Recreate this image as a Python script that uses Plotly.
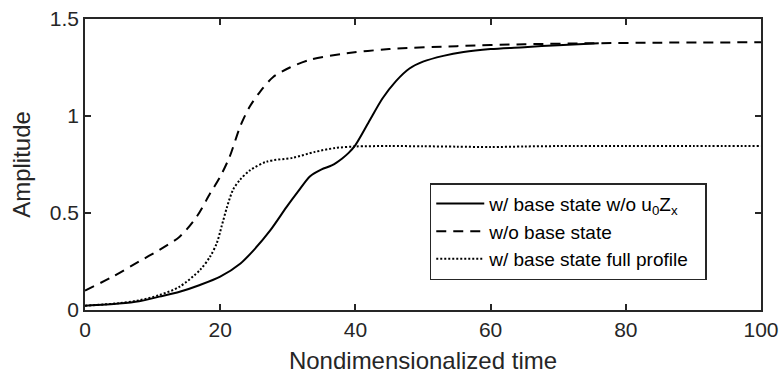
import plotly.graph_objects as go

# Series 1: w/ base state w/o u0Zx (solid)
t_solid = [0, 5, 8, 11, 14, 17, 20, 23, 25, 27.4, 29.8, 31.5, 33.3, 35, 36.5, 38, 39, 40, 42, 44, 46, 48, 50, 53, 56,
           60, 65, 70, 76]
a_solid = [0.022, 0.033, 0.045, 0.069, 0.094, 0.129, 0.172, 0.24, 0.31, 0.41, 0.53, 0.61, 0.69, 0.725, 0.745, 0.78,
           0.81, 0.85, 0.97, 1.09, 1.18, 1.245, 1.28, 1.31, 1.33, 1.345, 1.355, 1.365, 1.375]

# Series 2: w/o base state (dashed)
t_dash = [0, 4, 8, 11, 14, 16.5, 18.5, 20, 21.4, 23, 24.4, 26, 27.8, 30.3, 33.3, 38, 45, 55, 65, 75, 85, 100]
a_dash = [0.10, 0.17, 0.25, 0.31, 0.378, 0.48, 0.60, 0.687, 0.79, 0.95, 1.05, 1.13, 1.20, 1.25, 1.29, 1.32, 1.345,
          1.36, 1.37, 1.375, 1.378, 1.38]

# Series 3: w/ base state full profile (dotted)
t_dot = [0, 5, 8, 11, 14, 17, 18.5, 19.5, 20.2, 21, 21.9, 22.9, 24.4, 26.9, 30.8, 34, 37, 40, 45, 50, 55, 60, 65, 70,
         80, 90, 100]
a_dot = [0.022, 0.035, 0.05, 0.077, 0.12, 0.206, 0.275, 0.345, 0.43, 0.53, 0.62, 0.67, 0.72, 0.765, 0.785, 0.815,
         0.835, 0.843, 0.845, 0.844, 0.842, 0.84, 0.843, 0.845, 0.846, 0.845, 0.845]

names = ["w/ base state w/o u<sub>0</sub>Z<sub>x</sub>", "w/o base state",
         "w/ base state full profile\u00a0\u00a0"]

x_ticks = [0, 20, 40, 60, 80, 100]
y_ticks = [0, 0.5, 1, 1.5]
y_ticklabels = ["0", "0.5", "1", "1.5"]

FONT = "Liberation Sans, Arial, sans-serif"
AX = "#262626"

fig = go.Figure()
fig.add_trace(go.Scatter(x=t_solid, y=a_solid, mode="lines", name=names[0],
                         line=dict(color="black", width=2, shape="spline", smoothing=0.8)))
fig.add_trace(go.Scatter(x=t_dash, y=a_dash, mode="lines", name=names[1],
                         line=dict(color="black", width=2, dash="10px,7px", shape="spline", smoothing=0.8)))
fig.add_trace(go.Scatter(x=t_dot, y=a_dot, mode="lines", name=names[2],
                         line=dict(color="black", width=2, dash="2px,2px", shape="spline", smoothing=0.8)))

axis_common = dict(showline=True, linecolor=AX, linewidth=1.5, mirror="ticks", ticks="inside",
                   ticklen=6, tickwidth=1.5, tickcolor=AX, showgrid=False, zeroline=False, automargin=False,
                   tickfont=dict(family=FONT, size=21, color=AX))

fig.update_xaxes(range=[0, 100], tickvals=x_ticks,
                 title=dict(text="Nondimensionalized time", font=dict(family=FONT, size=24, color=AX), standoff=12),
                 **axis_common)
fig.update_yaxes(range=[0, 1.5], tickvals=y_ticks, ticktext=y_ticklabels,
                 title=dict(text="Amplitude", font=dict(family=FONT, size=24, color=AX), standoff=12),
                 **axis_common)

fig.update_layout(
    width=781, height=378,
    margin=dict(l=85, r=20, t=19, b=68),
    paper_bgcolor="white", plot_bgcolor="white",
    font=dict(family=FONT, color="black"),
    showlegend=True,
    legend=dict(x=0.51, y=0.436, xanchor="left", yanchor="top",
                bgcolor="white", bordercolor=AX, borderwidth=1.5,
                font=dict(family=FONT, size=19, color="black"),
                itemwidth=48, tracegroupgap=0),
)

fig.write_html("out.html")
